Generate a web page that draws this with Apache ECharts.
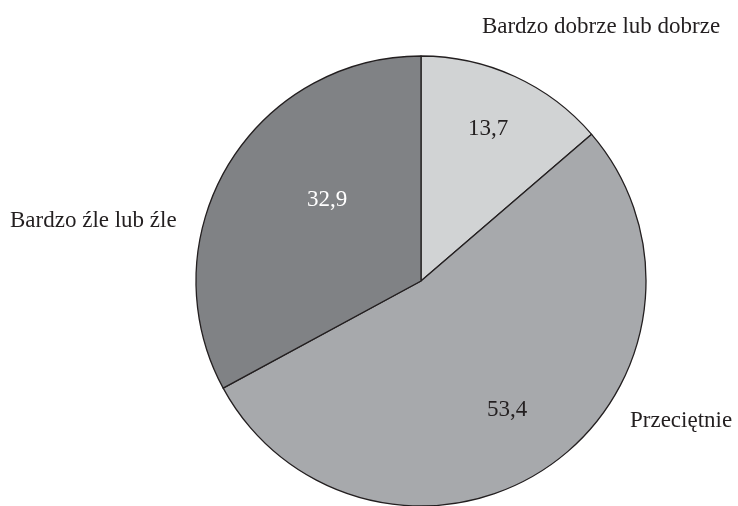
<!DOCTYPE html>
<html>
<head>
<meta charset="utf-8">
<style>html,body{margin:0;padding:0;background:#fff}#c{width:738px;height:506px}</style>
<script src="https://cdn.jsdelivr.net/npm/echarts@6/dist/echarts.min.js"></script>
</head>
<body>
<div id="c"></div>
<script>
const categories = ['Bardzo dobrze lub dobrze', 'Przeciętnie', 'Bardzo źle lub źle'];
const values = [13.7, 53.4, 32.9];
const colors = ['#d1d3d4', '#a7a9ac', '#808285'];
const valueLabelColors = ['#231f20', '#231f20', '#ffffff'];
// label anchor positions (pixels)
const valueLabelPos = [[488, 129], [507, 410], [327, 200]];
const nameLabelPos = [[601, 27, 'center'], [630, 421, 'left'], [10, 221, 'left']];

const font = 'Liberation Serif, Times New Roman, serif';
const chart = echarts.init(document.getElementById('c'), null, {renderer: 'canvas'});
const center = [421, 281];
const radius = 225;
chart.setOption({
  animation: false,
  series: [
    {
      type: 'pie',
      center: center,
      radius: radius,
      startAngle: 90,
      clockwise: true,
      silent: true,
      data: values.map((v, i) => ({
        name: categories[i], value: v,
        itemStyle: {color: colors[i]},
        label: {color: valueLabelColors[i]}
      })),
      itemStyle: {borderColor: '#231f20', borderWidth: 1.3},
      label: {
        show: true, position: 'inside', fontFamily: font, fontSize: 23,
        formatter: p => String(p.value).replace('.', ',')
      },
      labelLine: {show: false},
      labelLayout: p => ({x: valueLabelPos[p.dataIndex][0], y: valueLabelPos[p.dataIndex][1], align: 'center', verticalAlign: 'middle'})
    },
    {
      type: 'pie',
      center: center,
      radius: radius,
      startAngle: 90,
      clockwise: true,
      silent: true,
      z: 3,
      data: values.map((v, i) => ({name: categories[i], value: v})),
      itemStyle: {color: 'rgba(0,0,0,0)', borderWidth: 0},
      label: {
        show: true, position: 'outside', fontFamily: font, fontSize: 23, color: '#231f20',
        overflow: 'none', width: 400, alignTo: 'none',
        formatter: p => p.name
      },
      labelLine: {show: false},
      labelLayout: p => ({x: nameLabelPos[p.dataIndex][0], y: nameLabelPos[p.dataIndex][1], align: nameLabelPos[p.dataIndex][2], verticalAlign: 'middle'})
    }
  ]
});
</script>
</body>
</html>
